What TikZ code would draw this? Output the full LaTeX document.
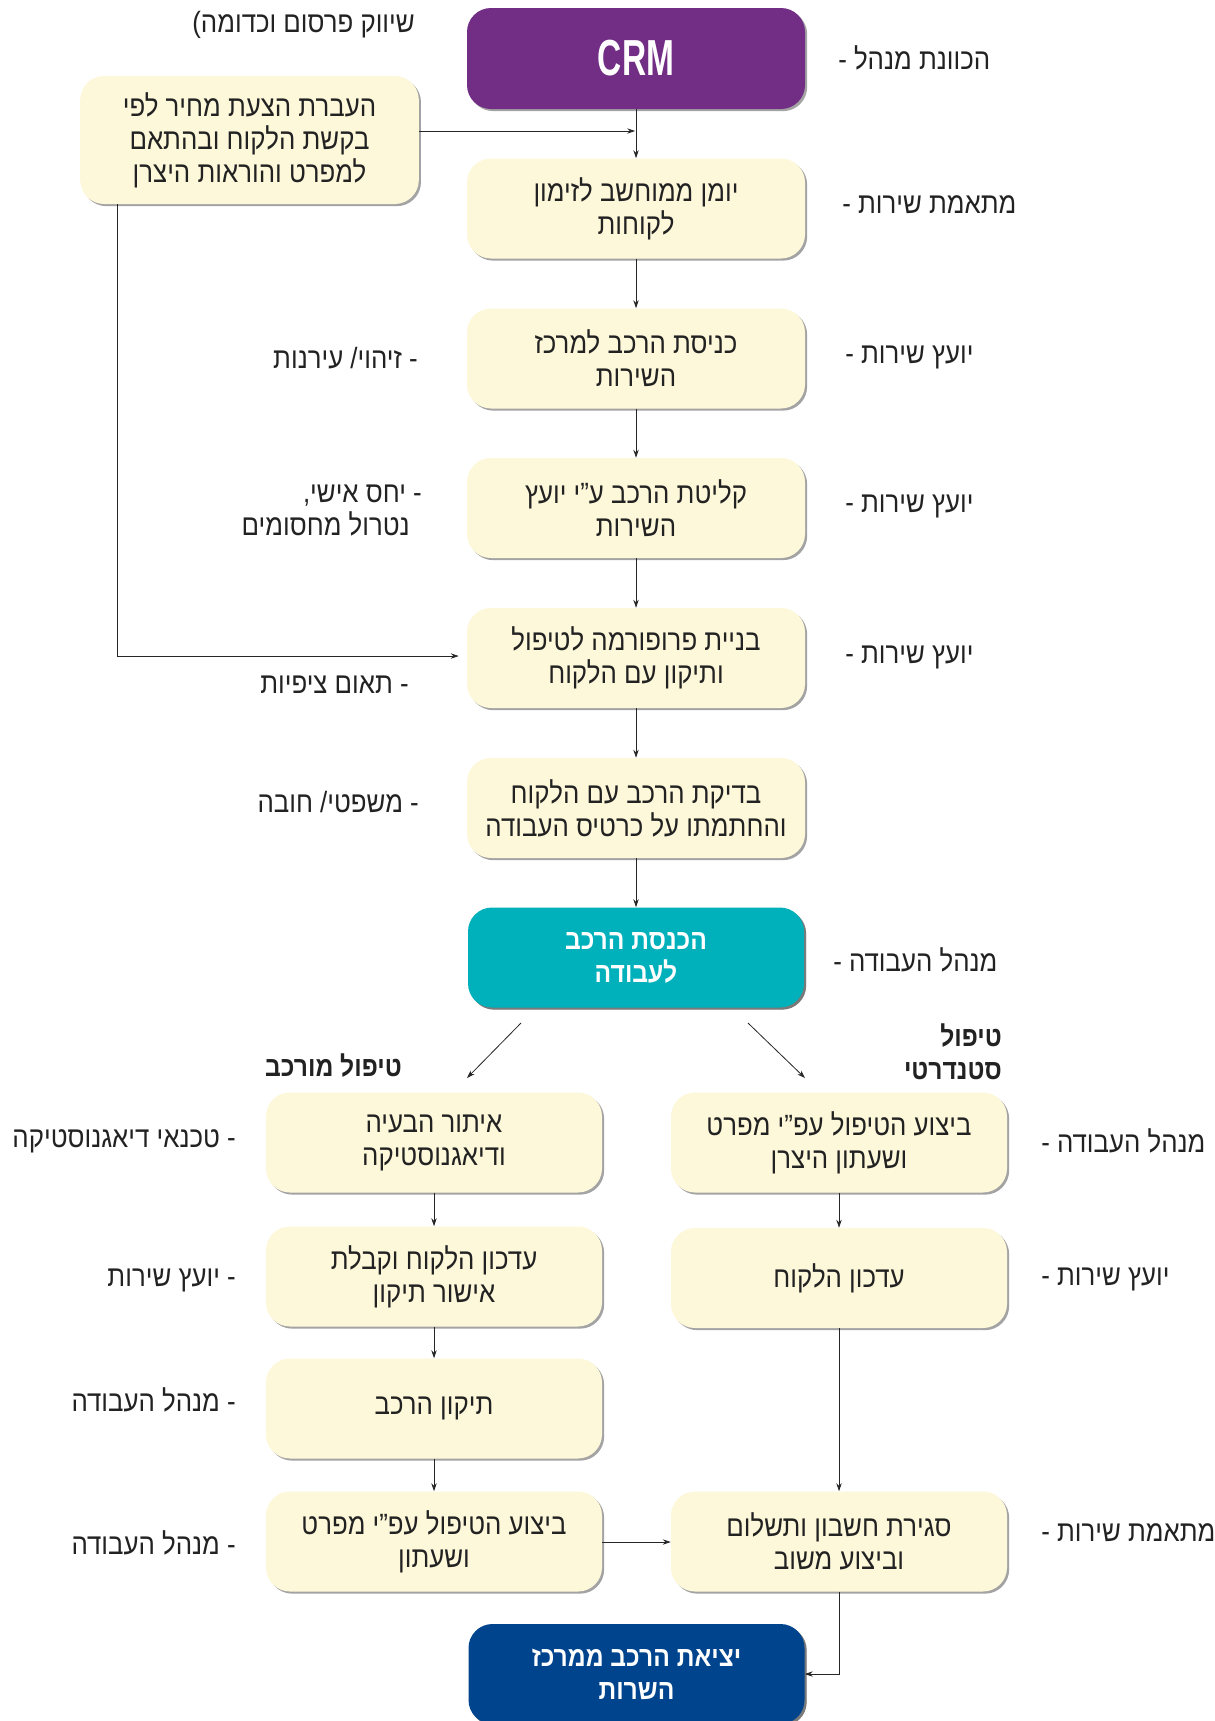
\documentclass[tikz,border=0pt]{standalone}
\usepackage{fontspec}
\usetikzlibrary{arrows.meta,shadows}
\TeXXeTstate=1
\newfontfamily\hebfont[Script=Hebrew,FakeStretch=0.88]{Liberation Sans}
\newfontfamily\crmfont[FakeStretch=0.66]{Liberation Sans}
\newcommand{\hb}[1]{\beginR #1\endR}
\definecolor{cream}{HTML}{FEF8DA}
\definecolor{crmpurple}{HTML}{722D85}
\definecolor{workteal}{HTML}{00B1BB}
\definecolor{exitblue}{HTML}{00448E}
\definecolor{txt}{HTML}{222222}
\tikzset{
  box/.style={rectangle, rounded corners=18pt, minimum width=252pt, minimum height=75pt,
    inner sep=0pt, align=center, fill=cream, text=txt,
    drop shadow={shadow xshift=1.6pt, shadow yshift=-1.6pt, fill=black!65, opacity=0.55},
    font=\hebfont\fontsize{22pt}{24.75pt}\selectfont},
  mainbox/.style={box, minimum width=253.5pt},
  colbox/.style={box, text=white, font=\hebfont\bfseries\fontsize{21pt}{24.75pt}\selectfont},
  lbl/.style={inner sep=0pt, text=txt, font=\hebfont\fontsize{22pt}{24.75pt}\selectfont},
  lblr/.style={lbl, anchor=west, align=left},
  lbll/.style={lbl, anchor=east, align=right},
  head/.style={lbl, anchor=east, align=right, font=\hebfont\bfseries\fontsize{21pt}{24.75pt}\selectfont},
  arr/.style={-{Stealth[length=6pt,width=4pt]}, line width=0.6pt, draw=black!85}
}
\begin{document}
\begin{tikzpicture}[x=0.75pt,y=-0.75pt]
\useasboundingbox (0,0) rectangle (1214,1721);
\fill[white] (0,0) rectangle (1214,1721);
\clip (0,0) rectangle (1214,1721);

% top note (partially cut)
\node[lbll] (topnote) at (415,25) {\hb{שיווק פרסום וכדומה)}};

% main column
\node[mainbox, fill=crmpurple, minimum height=75.75pt] (crm) at (636,58.5)
  {\crmfont\bfseries\fontsize{38pt}{40pt}\selectfont\color{white}CRM};
\node[box, minimum height=96pt, minimum width=254pt] (lbox) at (249.5,140)
  {\hb{העברת הצעת מחיר לפי}\\\hb{בקשת הלקוח ובהתאם}\\\hb{למפרט והוראות היצרן}};
\node[mainbox] (b2) at (636,208.5) {\hb{יומן ממוחשב לזימון}\\\hb{לקוחות}};
\node[mainbox] (b3) at (636,358.5) {\hb{כניסת הרכב למרכז}\\\hb{השירות}};
\node[mainbox] (b4) at (636,508) {\hb{קליטת הרכב ע”י יועץ}\\\hb{השירות}};
\node[mainbox] (b5) at (636,658) {\hb{בניית פרופורמה לטיפול}\\\hb{ותיקון עם הלקוח}};
\node[mainbox] (b6) at (636,808) {\hb{בדיקת הרכב עם הלקוח}\\\hb{והחתמתו על כרטיס העבודה}};
\node[mainbox, colbox, fill=workteal] (b7) at (636,957.5) {\hb{הכנסת הרכב}\\\hb{לעבודה}};

% right labels main
\node[lblr] (r0) at (838,58) {\hb{הכוונת מנהל -}};
\node[lblr] (r2) at (842,205) {\hb{מתאמת שירות -}};
\node[lblr] (r3) at (845,357) {\hb{יועץ שירות -}};
\node[lblr] (r4) at (845,506) {\hb{יועץ שירות -}};
\node[lblr] (r5) at (845,657) {\hb{יועץ שירות -}};
\node[lblr] (r7) at (833,960) {\hb{מנהל העבודה -}};

% left labels main
\node[lbll] (l3) at (418,358) {\hb{- זיהוי/ עירנות}};
\node[lbll] (l4) at (422,511) {\hb{- יחס אישי,}\\\hb{נטרול מחסומים}\hspace*{9pt}};
\node[lbll] (l5) at (409,685) {\hb{- תאום ציפיות}};
\node[lbll] (l6) at (419,802) {\hb{- משפטי/ חובה}};

% branch headings
\node[head] (hm) at (402,1066) {\hb{טיפול מורכב}};
\node[head] (hs) at (1002,1052) {\hb{טיפול}\\\hb{סטנדרטי}};

% lower columns
\node[box] (L1) at (434,1142.5) {\hb{איתור הבעיה}\\\hb{ודיאגנוסטיקה}};
\node[box] (L2) at (434,1276.5) {\hb{עדכון הלקוח וקבלת}\\\hb{אישור תיקון}};
\node[box] (L3) at (434,1408.5) {\hb{תיקון הרכב}};
\node[box] (L4) at (434,1541.5) {\hb{ביצוע הטיפול עפ”י מפרט}\\\hb{ושעתון}};
\node[box] (R1) at (839,1142.5) {\hb{ביצוע הטיפול עפ”י מפרט}\\\hb{ושעתון היצרן}};
\node[box] (R2) at (839,1278) {\hb{עדכון הלקוח}};
\node[box] (R4) at (839,1541.5) {\hb{סגירת חשבון ותשלום}\\\hb{וביצוע משוב}};
\node[mainbox, colbox, fill=exitblue] (fin) at (636.5,1674) {\hb{יציאת הרכב ממרכז}\\\hb{השרות}};

% lower labels
\node[lbll] (ll1) at (236,1141) {\hb{- טכנאי דיאגנוסטיקה}};
\node[lbll] (ll2) at (236,1280) {\hb{- יועץ שירות}};
\node[lbll] (ll3) at (236,1400) {\hb{- מנהל העבודה}};
\node[lbll] (ll4) at (236,1543) {\hb{- מנהל העבודה}};
\node[lblr] (rl1) at (1041,1141) {\hb{מנהל העבודה -}};
\node[lblr] (rl2) at (1041,1279) {\hb{יועץ שירות -}};
\node[lblr] (rl4) at (1041,1533) {\hb{מתאמת שירות -}};

% connectors main
\coordinate (jy) at (0,131);
\draw[arr] (crm) -- (b2);
\draw[arr] (lbox.east |- jy) -- ([xshift=-0.6pt]crm.south |- jy);
\draw[arr] (b2) -- (b3);
\draw[arr] (b3) -- (b4);
\draw[arr] (b4) -- (b5);
\draw[arr] (b5) -- (b6);
\draw[arr] (b6) -- (b7);
\coordinate (fb) at (117,656);
\draw[arr, shorten >=6pt] (lbox.south -| fb) -- (fb) -- (b5.west |- fb);

% branches
\coordinate (dl0) at (521,1023);
\coordinate (dl1) at (467,1078);
\coordinate (dr0) at (748,1023);
\coordinate (dr1) at (805,1078);
\draw[arr] (dl0) -- (dl1);
\draw[arr] (dr0) -- (dr1);

% lower connectors
\draw[arr] (L1) -- (L2);
\draw[arr] (L2) -- (L3);
\draw[arr] (L3) -- (L4);
\draw[arr] (R1) -- (R2);
\draw[arr] (R2) -- (R4);
\coordinate (hy) at (0,1542);
\draw[arr] (L4.east |- hy) -- (R4.west |- hy);
\draw[arr] (R4.south) |- (fin.east);
\end{tikzpicture}
\end{document}
